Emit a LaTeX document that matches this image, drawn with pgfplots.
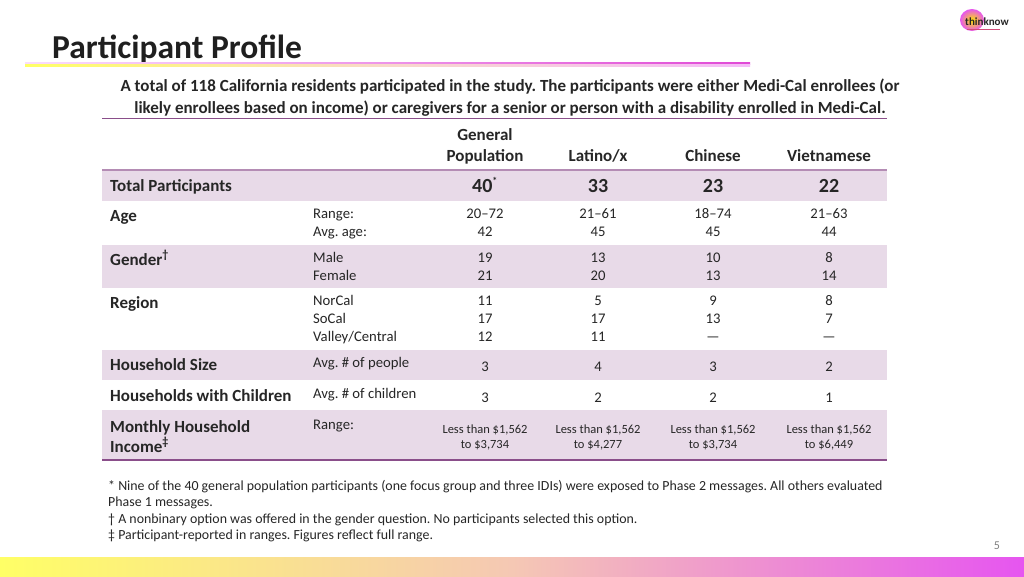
\documentclass[border=0pt]{standalone}
\usepackage{fontspec}
\setmainfont{Carlito}
\usepackage{pgfplots}
\pgfplotsset{compat=1.18}
\usepackage{pgfplotstable}
\frenchspacing
\definecolor{band}{HTML}{E8DAE8}
\definecolor{lineP}{HTML}{8A4E8A}
\definecolor{lineL}{HTML}{B48CB4}
\definecolor{barY}{HTML}{FFFF66}
\definecolor{barP}{HTML}{F5C8B4}
\definecolor{barM}{HTML}{E655F0}
\pgfdeclarehorizontalshading{bottombar}{100bp}{color(0bp)=(barY); color(25bp)=(barY); color(50bp)=(barP); color(75bp)=(barM); color(100bp)=(barM)}
\pgfdeclarehorizontalshading{titlelineA}{100bp}{color(0bp)=(white); color(25bp)=(white!80!barM); color(75bp)=(barM!85!purple); color(100bp)=(barM!85!purple)}
\pgfdeclarehorizontalshading{titlelineB}{100bp}{color(0bp)=(barY); color(25bp)=(barY); color(50bp)=(barP!70!white); color(75bp)=(barM!40!white); color(100bp)=(barM!40!white)}

% header + cell values (x = column centre, y = baseline in px)
\pgfplotstableread[col sep=semicolon]{
x;y;label
485;192;40\textsuperscript{\normalsize *}
598;192;33
713;192;23
829;192;22
}\totals
\pgfplotstableread[col sep=semicolon]{
x;y;label
485;218;20–72
598;218;21–61
713;218;18–74
829;218;21–63
485;236;42
598;236;45
713;236;45
829;236;44
485;262;19
598;262;13
713;262;10
829;262;8
485;280;21
598;280;20
713;280;13
829;280;14
485;305;11
598;305;5
713;305;9
829;305;8
485;323;17
598;323;17
713;323;13
829;323;7
485;341;12
598;341;11
713;341;—
829;341;—
485;371;3
598;371;4
713;371;3
829;371;2
485;402;3
598;402;2
713;402;2
829;402;1
}\cells
\pgfplotstableread[col sep=semicolon]{
x;y;label
485;433;Less than \$1,562
598;433;Less than \$1,562
713;433;Less than \$1,562
829;433;Less than \$1,562
485;448;to \$3,734
598;448;to \$4,277
713;448;to \$3,734
829;448;to \$6,449
}\income

\begin{document}
\begin{tikzpicture}
\begin{axis}[scale only axis, width=1024pt, height=576pt,
  xmin=0, xmax=1024, ymin=0, ymax=576, y dir=reverse,
  hide axis, clip=false]
\fill[white] (0,0) rectangle (1024,576);
% title
\node[anchor=base west, inner sep=0pt, font=\fontsize{33.5}{38}\selectfont\bfseries, text=black!88] at (52,58) {Participant Profile};
\shade[shading=titlelineA] (25,62.2) rectangle (750,64.4);
\shade[shading=titlelineB] (25,64.4) rectangle (750,66.4);
% logo
\shade[inner color=yellow!80!orange, outer color=barM] (972,20) ellipse [x radius=12, y radius=11];
\node[anchor=base west, inner sep=0pt, font=\fontsize{11}{12}\selectfont\bfseries, text=black!85] at (965,25) {thinknow};
\draw[purple!70, line width=0.8pt] (967,29) -- (1000,29);
% subtitle
\begin{scope}[every node/.style={anchor=base, inner sep=0pt, font=\fontsize{17}{20}\selectfont\bfseries, text=black!85}]
\node at (510,91) {A total of 118 California residents participated in the study. The participants were either Medi-Cal enrollees (or};
\node at (510,113) {likely enrollees based on income) or caregivers for a senior or person with a disability enrolled in Medi-Cal.};
\end{scope}
\draw[lineP, line width=1pt] (102,118.5) -- (887,118.5);
% bands
\fill[band] (102,170) rectangle (887,201);
\fill[band] (102,244) rectangle (887,288);
\fill[band] (102,350) rectangle (887,380);
\fill[band] (102,410) rectangle (887,460);
\draw[lineL, line width=1.3pt] (102,170) -- (887,170);
\draw[white, line width=1pt] (102,201) -- (887,201);
\draw[white, line width=1pt] (102,244) -- (887,244);
\draw[white, line width=1pt] (102,288) -- (887,288);
\draw[lineP, line width=1.3pt] (102,460) -- (887,460);
% column headers
\begin{scope}[every node/.style={anchor=base, inner sep=0pt, font=\fontsize{17}{20}\selectfont\bfseries, text=black!85}]
\node at (485,140) {General};
\node at (485,161) {Population};
\node at (598,161) {Latino/x};
\node at (713,161) {Chinese};
\node at (829,161) {Vietnamese};
\end{scope}
% row labels
\begin{scope}[every node/.style={anchor=base west, inner sep=0pt, font=\fontsize{17}{20}\selectfont\bfseries, text=black!85}]
\node at (110,191) {Total Participants};
\node at (110,221) {Age};
\node at (110,265) {Gender\textsuperscript{†}};
\node at (110,308) {Region};
\node at (110,370) {Household Size};
\node at (110,401) {Households with Children};
\node at (110,432) {Monthly Household};
\node at (110,452) {Income\textsuperscript{‡}};
\end{scope}
\begin{scope}[every node/.style={anchor=base west, inner sep=0pt, font=\fontsize{14.7}{17}\selectfont, text=black!85}]
\node at (313,218) {Range:};
\node at (313,236) {Avg. age:};
\node at (313,262) {Male};
\node at (313,280) {Female};
\node at (313,305) {NorCal};
\node at (313,323) {SoCal};
\node at (313,341) {Valley/Central};
\node at (313,367) {Avg. \# of people};
\node at (313,398) {Avg. \# of children};
\node at (313,429) {Range:};
\end{scope}
% values
\addplot[draw=none, mark=none, nodes near coords, point meta=explicit symbolic,
  every node near coord/.append style={anchor=base, inner sep=0pt, font=\fontsize{20}{23}\selectfont\bfseries, text=black!85}]
  table[x=x, y=y, meta=label] {\totals};
\addplot[draw=none, mark=none, nodes near coords, point meta=explicit symbolic,
  every node near coord/.append style={anchor=base, inner sep=0pt, font=\fontsize{14.7}{17}\selectfont, text=black!85}]
  table[x=x, y=y, meta=label] {\cells};
\addplot[draw=none, mark=none, nodes near coords, point meta=explicit symbolic,
  every node near coord/.append style={anchor=base, inner sep=0pt, font=\fontsize{12.5}{15}\selectfont, text=black!85}]
  table[x=x, y=y, meta=label] {\income};
% footnotes
\begin{scope}[every node/.style={anchor=base west, inner sep=0pt, font=\fontsize{13.9}{16}\selectfont, text=black!85}]
\node at (108,490) {* Nine of the 40 general population participants (one focus group and three IDIs) were exposed to Phase 2 messages. All others evaluated};
\node at (108,506) {Phase 1 messages.};
\node at (108,523) {† A nonbinary option was offered in the gender question. No participants selected this option.};
\node at (108,539) {‡ Participant-reported in ranges. Figures reflect full range.};
\end{scope}
\node[anchor=base, inner sep=0pt, font=\fontsize{12}{14}\selectfont, text=black!50] at (997,549) {5};
% bottom bar
\shade[shading=bottombar] (0,557) rectangle (1024,576);
\end{axis}
\end{tikzpicture}
\end{document}
